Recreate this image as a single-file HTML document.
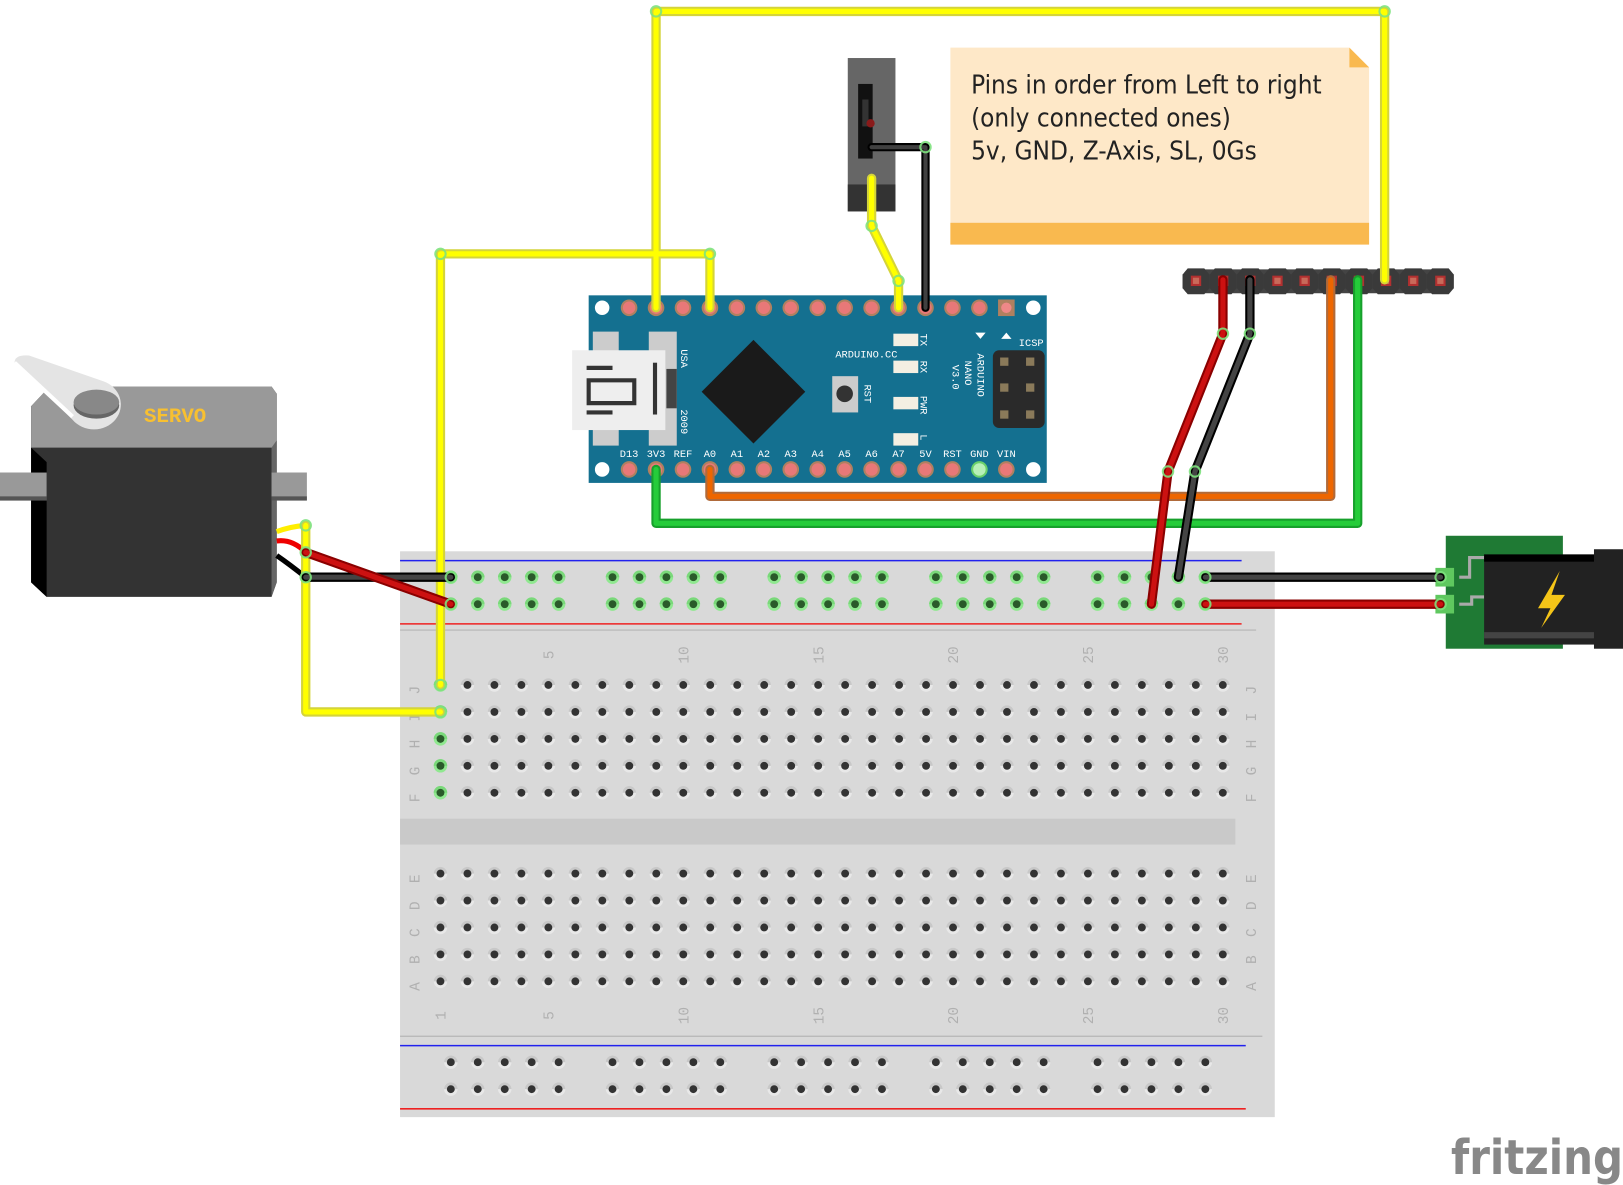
<!DOCTYPE html>
<html><head><meta charset="utf-8">
<style>
html,body{margin:0;padding:0;background:#fff;}
svg{display:block;}
text{font-family:"Liberation Mono",monospace;}
</style></head>
<body>
<svg id="s" width="1623" height="1185" viewBox="0 0 1566 1143.5" preserveAspectRatio="none" xmlns="http://www.w3.org/2000/svg">
<rect width="1566" height="1144" fill="#fff"/>
<!-- Breadboard -->
<rect x="386" y="532" width="844" height="546" fill="#d9d9d9"/>
<rect x="386" y="790" width="806" height="25" fill="#c9c9c9"/>
<line x1="386" y1="541" x2="1198" y2="541" stroke="#2222ee" stroke-width="1.5"/>
<line x1="386" y1="602" x2="1198" y2="602" stroke="#ee2222" stroke-width="1.5"/>
<line x1="386" y1="608" x2="1212" y2="608" stroke="#b5b5b5" stroke-width="1.2"/>
<line x1="386" y1="1000" x2="1218" y2="1000" stroke="#b5b5b5" stroke-width="1.2"/>
<line x1="386" y1="1009" x2="1202" y2="1009" stroke="#2222ee" stroke-width="1.5"/>
<line x1="386" y1="1070" x2="1202" y2="1070" stroke="#ee2222" stroke-width="1.5"/>
<g id="holes"></g>
<g id="labels" fill="#b0b0b0" font-family="Liberation Sans,sans-serif" font-size="14"></g>

<!-- Note -->
<path d="M917 46 H1302 L1321 65 V236 H917 Z" fill="#fee8c8"/>
<rect x="917" y="215" width="404" height="21" fill="#f9b94f"/>
<path d="M1302 46 L1321 65 H1302 Z" fill="#f9b94f"/>
<g fill="#222" font-size="25">
<text x="937" y="90" style="font-family:'DejaVu Sans Condensed','Liberation Sans Narrow',sans-serif">Pins in order from Left to right</text>
<text x="937" y="122" style="font-family:'DejaVu Sans Condensed','Liberation Sans Narrow',sans-serif">(only connected ones)</text>
<text x="937" y="154" style="font-family:'DejaVu Sans Condensed','Liberation Sans Narrow',sans-serif">5v, GND, Z-Axis, SL, 0Gs</text>
</g>

<!-- Switch -->
<rect x="818" y="56" width="46" height="148" fill="#666"/>
<rect x="818" y="178" width="46" height="26" fill="#333"/>
<rect x="828" y="81" width="14" height="72" fill="#111"/>
<rect x="832" y="96" width="6" height="26" fill="#333"/>
<circle cx="840" cy="119" r="4" fill="#8a1a1a"/>

<!-- Header -->
<g id="hdr"></g>

<!-- Arduino Nano -->
<rect x="568" y="285" width="442" height="181" fill="#147090"/>
<g fill="#fff"><circle cx="581" cy="297" r="7"/><circle cx="997" cy="297" r="7"/><circle cx="581" cy="453" r="7"/><circle cx="997" cy="453" r="7"/></g>
<g id="pins"></g>
<rect x="572" y="320" width="25" height="110" fill="#ccc"/>
<rect x="626" y="320" width="27" height="110" fill="#ccc"/>
<rect x="552" y="338" width="90" height="77" fill="#eee"/>
<path d="M566 355h25M566 398h25M568 367h44v22h-44z" stroke="#333" stroke-width="4" fill="none"/>
<rect x="630" y="350" width="4" height="50" fill="#333"/>
<rect x="643" y="356" width="10" height="38" fill="#444"/>
<path d="M727 328 L777 378 L727 428 L677 378 Z" fill="#1a1a1a"/>
<rect x="803" y="363" width="25" height="35" fill="#ccc"/>
<circle cx="815" cy="380" r="8" fill="#333"/>
<g fill="#f4efe2"><rect x="862" y="322" width="24" height="12"/><rect x="862" y="348" width="24" height="12"/><rect x="862" y="383" width="24" height="12"/><rect x="862" y="418" width="24" height="12"/></g>
<rect x="958" y="338" width="50" height="75" rx="6" fill="#2a2a2a"/>
<g fill="#8a7a5a"><rect x="965" y="345" width="8" height="8"/><rect x="990" y="345" width="8" height="8"/><rect x="965" y="370" width="8" height="8"/><rect x="990" y="370" width="8" height="8"/><rect x="965" y="396" width="8" height="8"/><rect x="990" y="396" width="8" height="8"/></g>
<g fill="#fff" font-size="10">
<text x="806" y="345">ARDUINO.CC</text>
<text x="983" y="334">ICSP</text>
<text transform="translate(657,337) rotate(90)">USA</text>
<text transform="translate(657,395) rotate(90)">2009</text>
<text transform="translate(834,371) rotate(90)">RST</text>
<text transform="translate(888,322) rotate(90)">TX</text>
<text transform="translate(888,348) rotate(90)">RX</text>
<text transform="translate(888,382) rotate(90)">PWR</text>
<text transform="translate(888,419) rotate(90)">L</text>
<text transform="translate(943,341) rotate(90)">ARDUINO</text>
<text transform="translate(931,348) rotate(90)">NANO</text>
<text transform="translate(919,352) rotate(90)">V3.0</text>
</g>
<path d="M941 321h10l-5 6z M966 327h10l-5 -6z" fill="#fff"/>
<g id="plab" fill="#fff" font-size="10" text-anchor="middle"></g>

<!-- Servo -->
<rect x="0" y="456" width="296" height="27" fill="#999"/>
<rect x="0" y="479" width="296" height="4" fill="#555"/>
<path d="M30 392 L48 373 H262 L267 380 V562 L262 576 H45 L30 562 Z" fill="#333"/>
<path d="M30 392 L48 373 H262 L267 380 V432 H30 Z" fill="#999"/>
<path d="M30 432 L45 446 V576 L30 562 Z" fill="#000"/>
<path d="M262 432 L267 425 V562 L262 576 Z" fill="#666"/>
<rect x="0" y="456" width="45" height="27" fill="#999"/><rect x="0" y="479" width="45" height="4" fill="#555"/>
<rect x="262" y="456" width="34" height="27" fill="#999"/><rect x="262" y="479" width="34" height="4" fill="#555"/>
<path d="M14 350 Q14 342 28 343 L100 368 A26 24 0 1 1 70 405 Z" fill="#e4e4e4"/>
<path d="M14 350 L70 402" stroke="#fff" stroke-width="4"/>
<ellipse cx="93" cy="391" rx="22" ry="13" fill="#666"/>
<ellipse cx="93" cy="388" rx="22" ry="12" fill="#888"/>
<text x="139" y="407" fill="#f8c030" font-size="20" font-weight="bold" style="font-family:'Liberation Mono',monospace">SERVO</text>
<path d="M267 513 Q280 508 295 507" stroke="#ffee00" stroke-width="5" fill="none"/>
<path d="M267 522 Q282 520 295 533" stroke="#ee0000" stroke-width="5" fill="none"/>
<path d="M267 536 Q280 545 295 557" stroke="#000" stroke-width="5" fill="none"/>

<!-- Power jack -->
<rect x="1395" y="517" width="113" height="109" fill="#1f7a34"/>
<path d="M1408 557 H1418 V538 H1477 V550 M1408 583 H1420 V576 H1432" stroke="#aaa" stroke-width="3" fill="none"/>
<circle cx="1449" cy="555" r="10" fill="#aaa"/>
<rect x="1432" y="535" width="108" height="87" fill="#222"/>
<rect x="1432" y="535" width="108" height="7" fill="#000"/>
<rect x="1432" y="610" width="108" height="6" fill="#444"/>
<rect x="1538" y="530" width="28" height="96" fill="#222"/>
<path d="M1505 551 L1484 587 H1496 L1487 606 L1510 574 H1497 Z" fill="#f5c518"/>
<rect x="1385" y="548" width="18" height="18" fill="#5fc85f"/>
<rect x="1385" y="574" width="18" height="18" fill="#5fc85f"/>

<!-- Wires -->
<g fill="none" stroke-linejoin="round" stroke-linecap="round">
<g stroke="#d4d43a" stroke-width="9">
<path d="M633 297V11H1336V270"/><path d="M685 297V245H425V661"/><path d="M295 507V687H425"/><path d="M841 172V218L867 271V297"/>
</g>
<g stroke="#ffff00" stroke-width="5">
<path d="M633 297V11H1336V270"/><path d="M685 297V245H425V661"/><path d="M295 507V687H425"/><path d="M841 172V218L867 271V297"/>
</g>
<path d="M841 142H893V297" stroke="#000" stroke-width="8"/><path d="M841 142H893V297" stroke="#404040" stroke-width="4"/>
<path d="M633 453V505H1310V270" stroke="#17a02c" stroke-width="9"/><path d="M633 453V505H1310V270" stroke="#25cc3a" stroke-width="5"/>
<path d="M685 453V479H1284V270" stroke="#b06a3a" stroke-width="9"/><path d="M685 453V479H1284V270" stroke="#ee6600" stroke-width="5"/>
<path d="M1180 270V322L1127 455L1111 583" stroke="#8a0000" stroke-width="9"/><path d="M1180 270V322L1127 455L1111 583" stroke="#cc1111" stroke-width="5"/>
<path d="M1206 270V322L1153 455L1137 557" stroke="#000" stroke-width="9"/><path d="M1206 270V322L1153 455L1137 557" stroke="#444" stroke-width="5"/>
<path d="M1163 557H1390" stroke="#000" stroke-width="9"/><path d="M1163 557H1390" stroke="#444" stroke-width="5"/>
<path d="M1163 583H1390" stroke="#8a0000" stroke-width="9"/><path d="M1163 583H1390" stroke="#cc1111" stroke-width="5"/>
<path d="M295 557H435" stroke="#000" stroke-width="9"/><path d="M295 557H435" stroke="#444" stroke-width="5"/>
<path d="M295 533L435 583" stroke="#8a0000" stroke-width="9"/><path d="M295 533L435 583" stroke="#cc1111" stroke-width="5"/>
</g>
<g fill="none" stroke="#7ee27e" stroke-width="2" opacity="0.9">
<circle cx="295" cy="507" r="5"/><circle cx="295" cy="533" r="5"/><circle cx="295" cy="557" r="5"/>
<circle cx="425" cy="661" r="5"/><circle cx="425" cy="687" r="5"/><circle cx="435" cy="557" r="5"/><circle cx="435" cy="583" r="5"/>
<circle cx="633" cy="11" r="5"/><circle cx="1336" cy="11" r="5"/><circle cx="685" cy="245" r="5"/><circle cx="425" cy="245" r="5"/>
<circle cx="841" cy="218" r="5"/><circle cx="867" cy="271" r="5"/><circle cx="893" cy="142" r="5"/>
<circle cx="1180" cy="322" r="5"/><circle cx="1206" cy="322" r="5"/><circle cx="1127" cy="455" r="5"/><circle cx="1153" cy="455" r="5"/>
<circle cx="1163" cy="557" r="5"/><circle cx="1163" cy="583" r="5"/><circle cx="1390" cy="557" r="5"/><circle cx="1390" cy="583" r="5"/>
</g>

<!-- fritzing logo -->
<text x="1400" y="1133" fill="#888" font-size="46" font-weight="bold" style="font-family:'DejaVu Sans','Liberation Sans',sans-serif" textLength="166" lengthAdjust="spacingAndGlyphs">fritzing</text>
</svg>
<script>
var NS="http://www.w3.org/2000/svg";
function el(p,t,a,txt){var e=document.createElementNS(NS,t);for(var k in a)e.setAttribute(k,a[k]);if(txt!=null)e.textContent=txt;p.appendChild(e);return e;}
var H=document.getElementById("holes");
function hole(x,y,green){
  el(H,"circle",{cx:x,cy:y,r:6.5,fill:green?"#90e890":"#e8e8e8"});
  el(H,"path",{d:"M"+(x-6.5)+" "+y+"A6.5 6.5 0 0 1 "+(x+6.5)+" "+y+"Z",fill:green?"#7ad87a":"#c8c8c8"});
  el(H,"circle",{cx:x,cy:y,r:3.8,fill:green?"#2a5a2a":"#333"});
}
var rows=[661,687,713,739,765,843,869,895,921,947];
for(var r=0;r<rows.length;r++)for(var c=0;c<30;c++){var x=425+c*26.03;hole(x,rows[r],c==0&&r<5);}
var rs=[[435,557,583],[435,1025,1051]];
for(var k=0;k<2;k++){for(var g=0;g<5;g++)for(var i=0;i<5;i++){var x=rs[k][0]+g*156+i*26;hole(x,rs[k][1],k==0);hole(x,rs[k][2],k==0);}}
var L=document.getElementById("labels");
var letters=["J","I","H","G","F","E","D","C","B","A"];
for(var r=0;r<10;r++){
 el(L,"text",{transform:"translate(405,"+(rows[r]+5)+") rotate(-90)","text-anchor":"middle"},letters[r]);
 el(L,"text",{transform:"translate(1212,"+(rows[r]+5)+") rotate(-90)","text-anchor":"middle"},letters[r]);
}
var nums=[1,5,10,15,20,25,30];
for(var i=0;i<nums.length;i++){var x=425+(nums[i]-1)*26.03+5;
 if(nums[i]!=1)el(L,"text",{transform:"translate("+x+",632) rotate(-90)","text-anchor":"middle"},nums[i]);
 el(L,"text",{transform:"translate("+x+",980) rotate(-90)","text-anchor":"middle"},nums[i]);}
var P=document.getElementById("pins"),PL=document.getElementById("plab");
var top=["D12","D11","D10","D9","D8","D7","D6","D5","D4","D3","D2","GND","RST","RX0","TX1"];
var bot=["D13","3V3","REF","A0","A1","A2","A3","A4","A5","A6","A7","5V","RST","GND","VIN"];
for(var i=0;i<15;i++){var x=607+i*26;
 if(i==14){el(P,"rect",{x:x-8,y:289,width:16,height:16,fill:"#b08060"});el(P,"circle",{cx:x,cy:297,r:5,fill:"#e88"});}
 else{el(P,"circle",{cx:x,cy:297,r:8,fill:"#b08060"});el(P,"circle",{cx:x,cy:297,r:6,fill:"#e87878"});}
 el(P,"circle",{cx:x,cy:453,r:8,fill:i==13?"#6ad06a":"#b08060"});el(P,"circle",{cx:x,cy:453,r:6,fill:i==13?"#b8f0b8":"#e87878"});
 el(PL,"text",{x:x,y:317},top[i]);el(PL,"text",{x:x,y:441},bot[i]);}
var HD=document.getElementById("hdr");
el(HD,"rect",{x:1142,y:260,width:258,height:23,rx:6,fill:"#444"});
for(var i=0;i<10;i++){var x=1154+i*26.2;
 el(HD,"path",{d:"M"+(x-13)+" 265 L"+(x-8)+" 259 H"+(x+8)+" L"+(x+13)+" 265 V278 L"+(x+8)+" 284 H"+(x-8)+" L"+(x-13)+" 278Z",fill:"#3a3a3a"});
 el(HD,"rect",{x:x-5,y:266,width:10,height:10,fill:"#b23030"});el(HD,"rect",{x:x-3,y:268,width:6,height:6,fill:"#c86a5a"});}
</script>
</body></html>
